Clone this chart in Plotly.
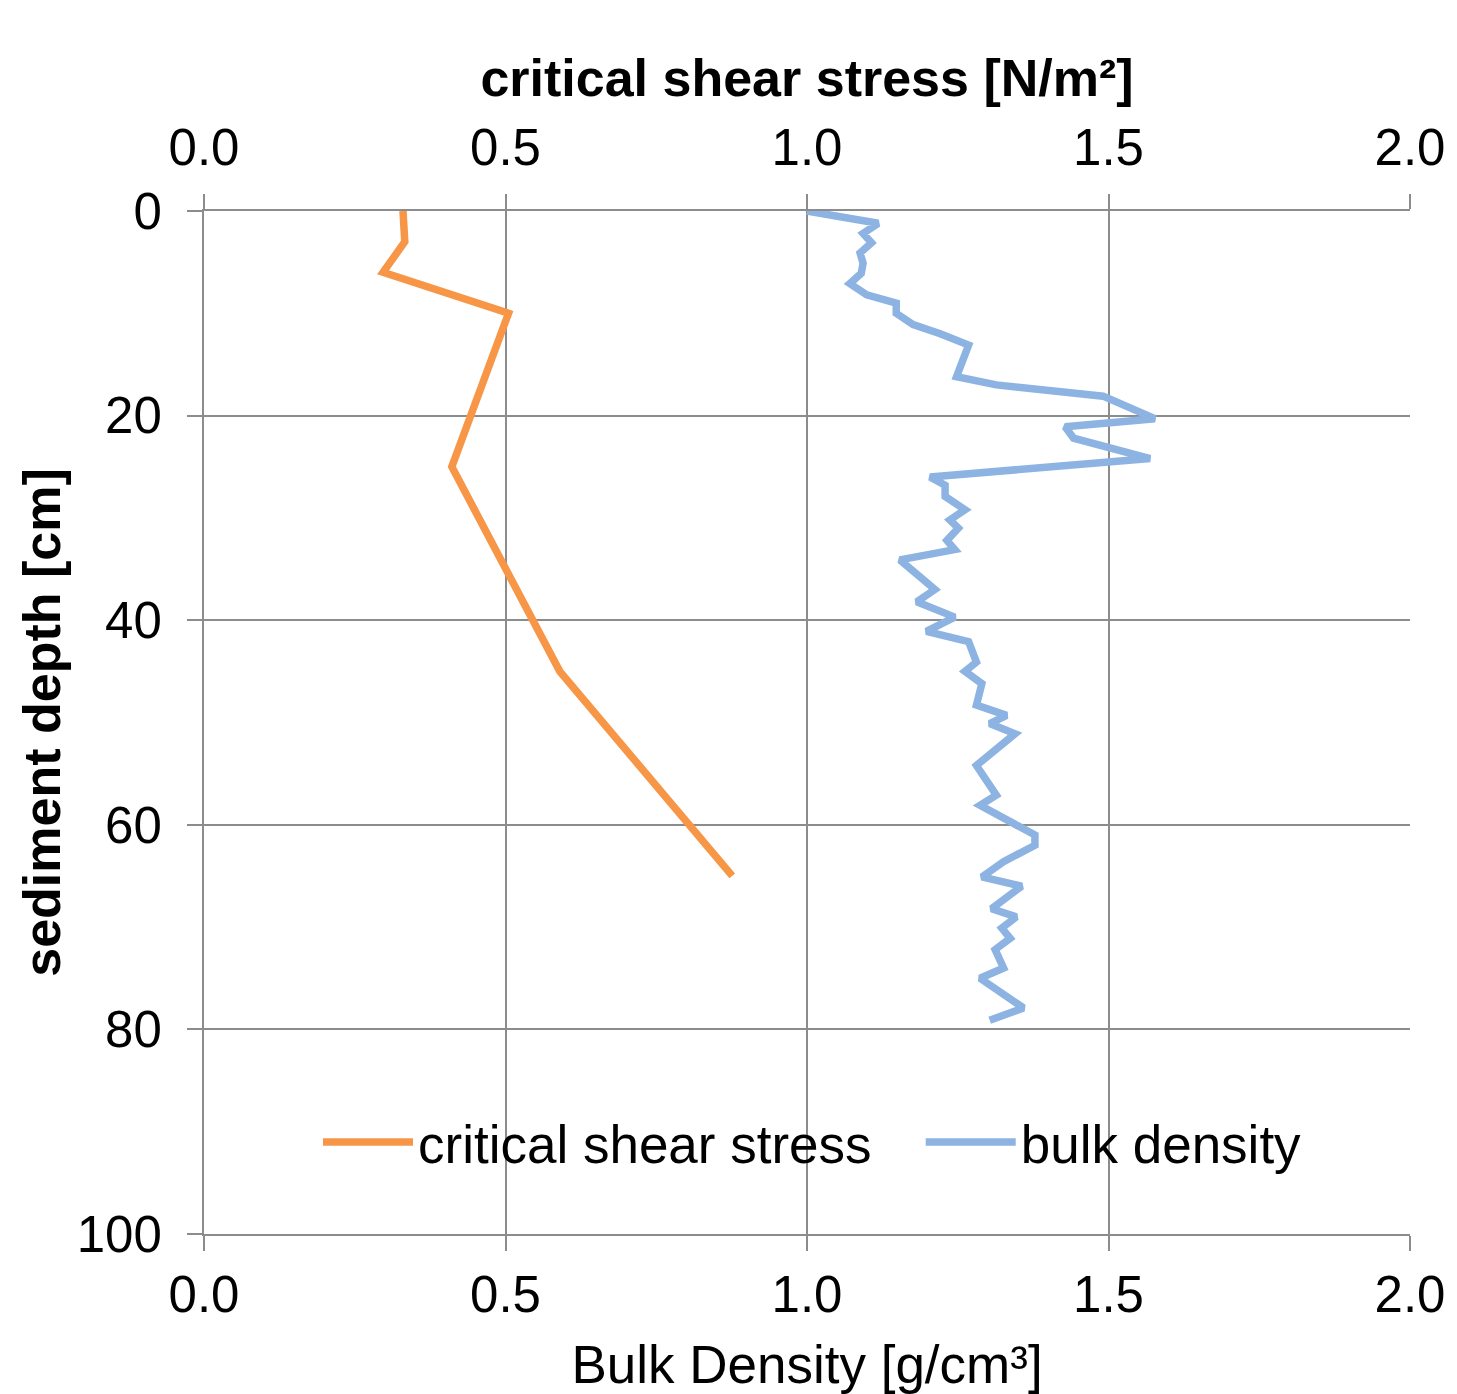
import plotly.graph_objects as go

# Critical shear stress profile (top axis)
depth_css = [0, 3, 6, 10, 25, 45, 65]
css = [0.33, 0.333, 0.297, 0.505, 0.411, 0.59, 0.876]

# Bulk density profile (bottom axis)
depth_bulk = [0, 1.2, 2.2, 3.1, 4.1, 5.1, 6.1, 7.1, 8.2, 9.0, 10.0, 11.1, 12.0, 13.1,
              16.2, 17.0, 18.1, 20.3, 21.1, 22.2, 24.2, 26.0, 26.8, 27.9, 29.2, 30.2,
              31.0, 32.2, 33.1, 34.1, 37.0, 38.2, 39.7, 41.1, 42.1, 44.1, 45.0, 46.2,
              48.3, 49.3, 50.1, 51.1, 54.2, 57.1, 58.1, 61.0, 62.0, 63.6, 65.1, 66.0,
              68.2, 69.0, 70.1, 71.1, 72.2, 74.0, 75.0, 77.9, 79.1]
bulk = [1.00, 1.118, 1.093, 1.107, 1.088, 1.093, 1.090, 1.071, 1.099, 1.148, 1.148,
        1.176, 1.221, 1.268, 1.248, 1.314, 1.491, 1.577, 1.428, 1.442, 1.569, 1.204,
        1.229, 1.229, 1.262, 1.237, 1.251, 1.232, 1.245, 1.154, 1.212, 1.182, 1.245,
        1.198, 1.268, 1.281, 1.262, 1.290, 1.281, 1.331, 1.303, 1.345, 1.281, 1.314,
        1.287, 1.378, 1.378, 1.326, 1.290, 1.356, 1.306, 1.347, 1.323, 1.337, 1.312,
        1.326, 1.287, 1.359, 1.303]

x_ticks = [0, 0.5, 1.0, 1.5, 2.0]
x_ticklabels = ["0.0", "0.5", "1.0", "1.5", "2.0"]
y_ticks = [0, 20, 40, 60, 80, 100]

FONT = "Liberation Sans, Arial, sans-serif"
GRID = "#8c8c8c"
GAP = "\u00a0\u00a0\u00a0"

fig = go.Figure()
fig.add_trace(go.Scatter(x=css, y=depth_css, mode="lines", name="critical shear stress" + GAP,
                         xaxis="x2", yaxis="y",
                         line=dict(color="#F79646", width=7.5)))
fig.add_trace(go.Scatter(x=bulk, y=depth_bulk, mode="lines", name="bulk density",
                         xaxis="x", yaxis="y",
                         line=dict(color="#8DB3E2", width=7.5)))

axis_common = dict(range=[0, 2], tickvals=x_ticks, ticktext=x_ticklabels,
                   showgrid=True, gridcolor=GRID, gridwidth=2,
                   showline=True, linecolor=GRID, linewidth=2,
                   ticks="outside", ticklen=15, tickwidth=2, tickcolor=GRID,
                   tickfont=dict(size=51, color="black", family=FONT),
                   zeroline=False, automargin=False)

fig.update_layout(
    width=1457, height=1394,
    margin=dict(l=204, r=47, t=211, b=160),
    paper_bgcolor="white", plot_bgcolor="white",
    font=dict(family=FONT, color="black"),
    xaxis=dict(**axis_common,
               title=dict(text="Bulk Density [g/cm³]", font=dict(size=53, family=FONT), standoff=30)),
    xaxis2=dict(**axis_common, overlaying="x", side="top", ticklabelstandoff=9,
                title=dict(text="<b>critical shear stress [N/m²]</b>", font=dict(size=52, family=FONT), standoff=5)),
    yaxis=dict(range=[100, 0], tickvals=y_ticks,
               showgrid=True, gridcolor=GRID, gridwidth=2,
               showline=True, linecolor=GRID, linewidth=2,
               ticks="outside", ticklen=15, tickwidth=2, tickcolor=GRID,
               tickfont=dict(size=51, color="black", family=FONT),
               ticklabelstandoff=15, automargin=False,
               zeroline=False,
               title=dict(text="<b>sediment depth [cm]</b>", font=dict(size=52, family=FONT), standoff=0)),
    legend=dict(orientation="h", x=(318 - 204) / 1206, xanchor="left", y=0.09, yanchor="middle",
                font=dict(size=53, family=FONT, color="black"),
                bgcolor="rgba(0,0,0,0)", itemwidth=90),
    showlegend=True,
)

fig.write_html("out.html")
